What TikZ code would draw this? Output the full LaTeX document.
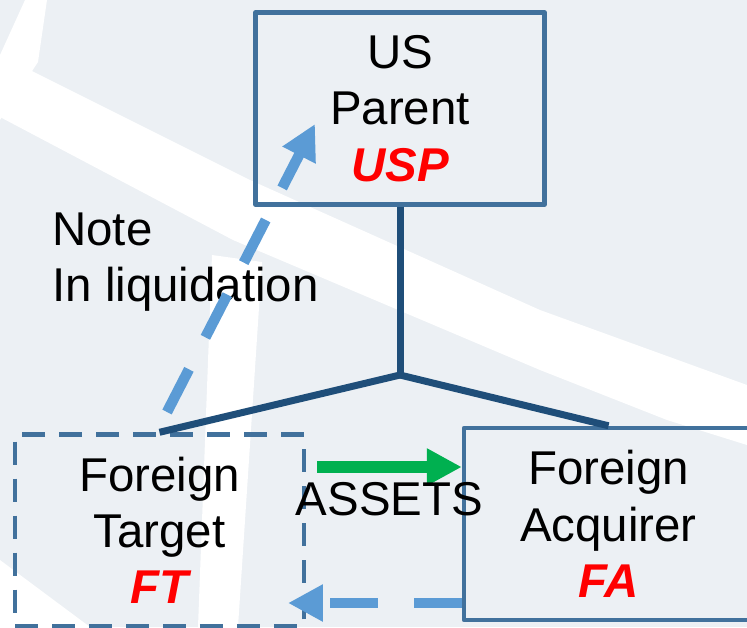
\documentclass[tikz,border=0pt]{standalone}
\usepackage{fontspec}
\setmainfont{Liberation Sans}
\usepackage{xcolor}
\usetikzlibrary{arrows.meta}
\definecolor{bgrey}{HTML}{ECF0F4}
\definecolor{boxblue}{HTML}{41719C}
\definecolor{treeblue}{HTML}{1F4E79}
\definecolor{noteblue}{HTML}{5B9BD5}
\definecolor{assetgreen}{HTML}{00B050}
\definecolor{tagred}{HTML}{FF0000}
\newcommand{\enttag}[1]{{\bfseries\itshape\color{tagred}#1}}

\begin{document}
\begin{tikzpicture}[
  x=0.02cm, y=-0.02cm,
  txt/.style={font=\fontsize{27pt}{32pt}\selectfont, text=black},
  ent/.style={txt, draw=boxblue, line width=0.09cm, line join=round,
              minimum width=5.78cm, minimum height=3.84cm, align=center, inner sep=0pt},
  dent/.style={ent, dash pattern=on 0.46cm off 0.28cm},
  own/.style={treeblue, line width=0.14cm},
  ar/.style={-{Triangle[length=0.7cm,width=0.7cm]}, line width=0.21cm, noteblue,
             dash pattern=on 0.96cm off 0.72cm},
  mv/.style={-{Triangle[length=0.7cm,width=0.7cm]}, line width=0.24cm, assetgreen},
]
  \useasboundingbox (0,0) rectangle (747,627);
  \clip (0,0) rectangle (747,627);
  % background streaks
  \fill[bgrey] (0,0) rectangle (747,627);
  \fill[white] (25,0) -- (47,0) -- (38,62) -- (0,120) -- (0,55) -- cycle;
  \fill[white] (30,70) -- (250,180) -- (540,310) -- (747,385) -- (747,445)
    -- (667,420) -- (540,370) -- (233,240) -- (0,117) -- (0,80) -- cycle;
  \fill[white] (212,255) -- (262,262) -- (238,627) -- (198,627) -- cycle;
  \fill[white] (0,560) -- (90,627) -- (0,627) -- cycle;

  % entities
  \node[ent] (usp) at (400,108.5) {US\\Parent\\\enttag{USP}};
  \node[dent] (ft) at (159.5,530.5) {Foreign\\Target\\\enttag{FT}};
  \node[ent] (fa) at (608.5,524) {Foreign\\Acquirer\\\enttag{FA}};
  \node[txt, align=left, anchor=north west, inner sep=0pt] (note) at (52,212) {Note\\In liquidation};

  % ownership
  \coordinate (jn) at (400,375);
  \draw[own] (usp.south) -- (jn);
  \draw[own] (jn) -- (ft.north);
  \draw[own] (jn) -- (fa.north);

  % flows
  \coordinate (ntail) at (167,412);
  \coordinate (nhead) at (315,124);
  \draw[ar] (ntail) -- (nhead);
  \coordinate (mvtail) at (317,467);
  \draw[mv] (mvtail) -- (mvtail -| fa.west)
    node[midway, below, txt, yshift=-2pt] (assets) {ASSETS};
  \coordinate (rethead) at (288,603);
  \draw[ar] (fa.west |- rethead) -- (rethead);
\end{tikzpicture}
\end{document}
